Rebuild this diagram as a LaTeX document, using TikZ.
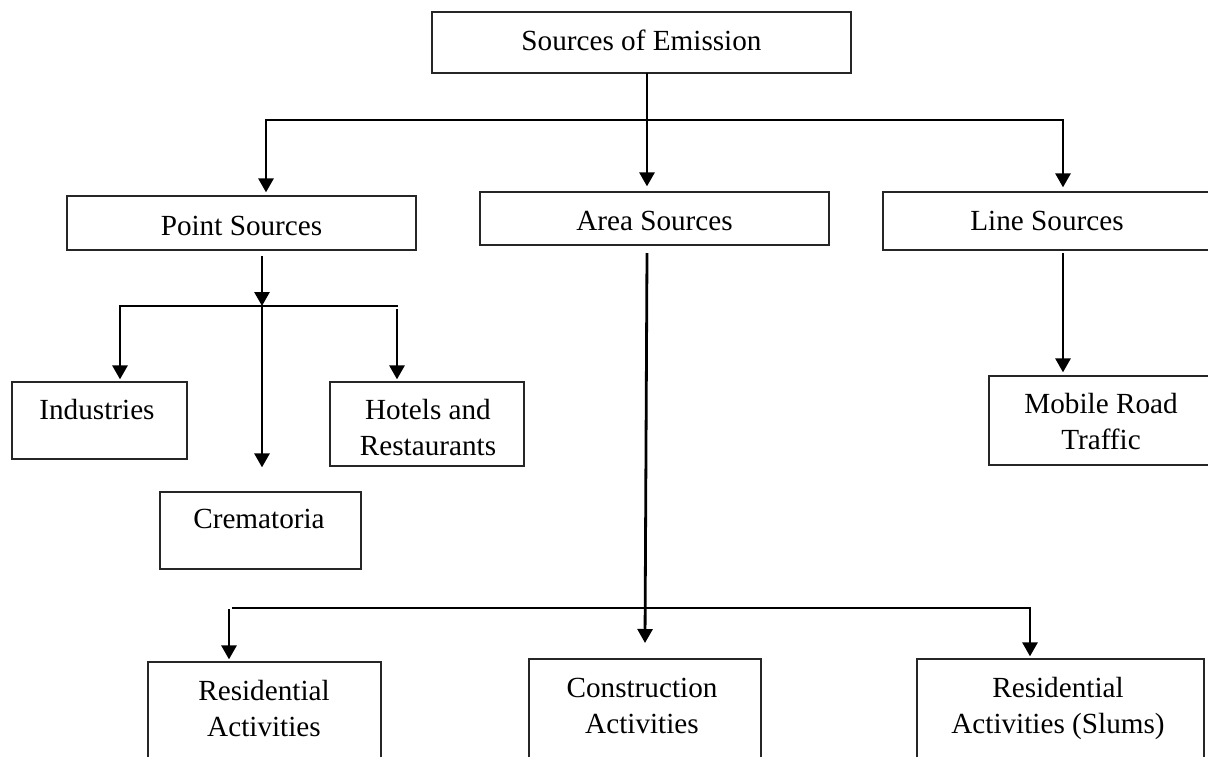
\documentclass[tikz,border=0pt]{standalone}
\usepackage{fontspec}
\setmainfont{Liberation Serif}
\usetikzlibrary{arrows.meta,fit}

\begin{document}
\begin{tikzpicture}[x=1pt,y=-1pt,
  box/.style={draw=black!85, line width=1.3pt, inner sep=0pt},
  lbl/.style={font=\fontsize{29.2}{36}\selectfont, align=center, anchor=base, inner sep=0pt},
  conn/.style={line width=2.8pt, line cap=rect},
  arr/.style={line width=2.8pt, -{Triangle[length=14pt,width=15pt]}}
]
\useasboundingbox (0,0) rectangle (1208,756);
\clip (0,0) rectangle (1208,756);
\fill[white] (0,0) rectangle (1208,756);

% boxes
\node[box, fit={(432,12) (851,73)}] (src) {};
\node[box, fit={(67,196) (416,250)}] (point) {};
\node[box, fit={(480,192) (829,245)}] (area) {};
\node[box, fit={(883,192) (1211,250)}] (line) {};
\node[box, fit={(12,382) (187,459)}] (ind) {};
\node[box, fit={(160,492) (361,569)}] (crem) {};
\node[box, fit={(330,382) (524,466)}] (hotel) {};
\node[box, fit={(989,376) (1213,465)}] (mobile) {};
\node[box, fit={(148,662) (381,790)}] (res) {};
\node[box, fit={(529,659) (761,790)}] (cons) {};
\node[box, fit={(917,659) (1204,790)}] (slum) {};

% labels (base anchor sits on the last line of a two-line label)
\node[lbl] (tsrc) at (641.5,50) {Sources of Emission};
\node[lbl] (tpoint) at (241.5,235) {Point Sources};
\node[lbl] (tarea) at (654.5,230) {Area Sources};
\node[lbl] (tline) at (1047,230) {Line Sources};
\node[lbl] (tind) at (97,419) {Industries};
\node[lbl] (tcrem) at (259,528) {Crematoria};
\node[lbl] (thotel) at (428,455) {Hotels and\\Restaurants};
\node[lbl] (tmob) at (1101,449) {Mobile Road\\Traffic};
\node[lbl] (tres) at (264,736) {Residential\\Activities};
\node[lbl] (tcons) at (642,733) {Construction\\Activities};
\node[lbl] (tslum) at (1058,733) {Residential\\Activities (Slums)};

% junction points
\coordinate (s1) at (647,73);
\coordinate (h1L) at (266,120);
\coordinate (h1R) at (1063,120);
\coordinate (p1) at (262,256);
\coordinate (h2M) at (262,306);
\coordinate (h2L) at (120,306);
\coordinate (h2R) at (397,306);
\coordinate (h2Rb) at (397,309);
\coordinate (l1) at (1063,253);
\coordinate (a1) at (647,253);
\coordinate (a2) at (645,643);
\coordinate (h3L) at (233,608);
\coordinate (h3R) at (1030,608);
\coordinate (r1) at (229,609);

% first level
\draw[conn] (h1L) -- (h1R);
\draw[arr, shorten >=5pt] (s1) -- (s1 |- area.north);
\draw[arr, shorten >=3pt] (h1L) -- (h1L |- point.north);
\draw[arr, shorten >=4pt] (h1R) -- (h1R |- line.north);

% point sources branch
\draw[arr] (p1) -- (h2M);
\draw[conn] (h2L) -- (h2R);
\draw[arr, shorten >=2pt] (h2L) -- (h2L |- ind.north);
\draw[arr, shorten >=24pt] (h2M) -- (h2M |- crem.north);
\draw[arr, shorten >=2pt] (h2Rb) -- (h2Rb |- hotel.north);

% line sources branch
\draw[arr, shorten >=3pt] (l1) -- (l1 |- mobile.north);

% area sources branch
\draw[arr] (a1) -- (a2);
\draw[conn] (h3L) -- (h3R);
\draw[arr, shorten >=2pt] (r1) -- (r1 |- res.north);
\draw[arr, shorten >=2pt] (h3R) -- (h3R |- slum.north);
\end{tikzpicture}
\end{document}
